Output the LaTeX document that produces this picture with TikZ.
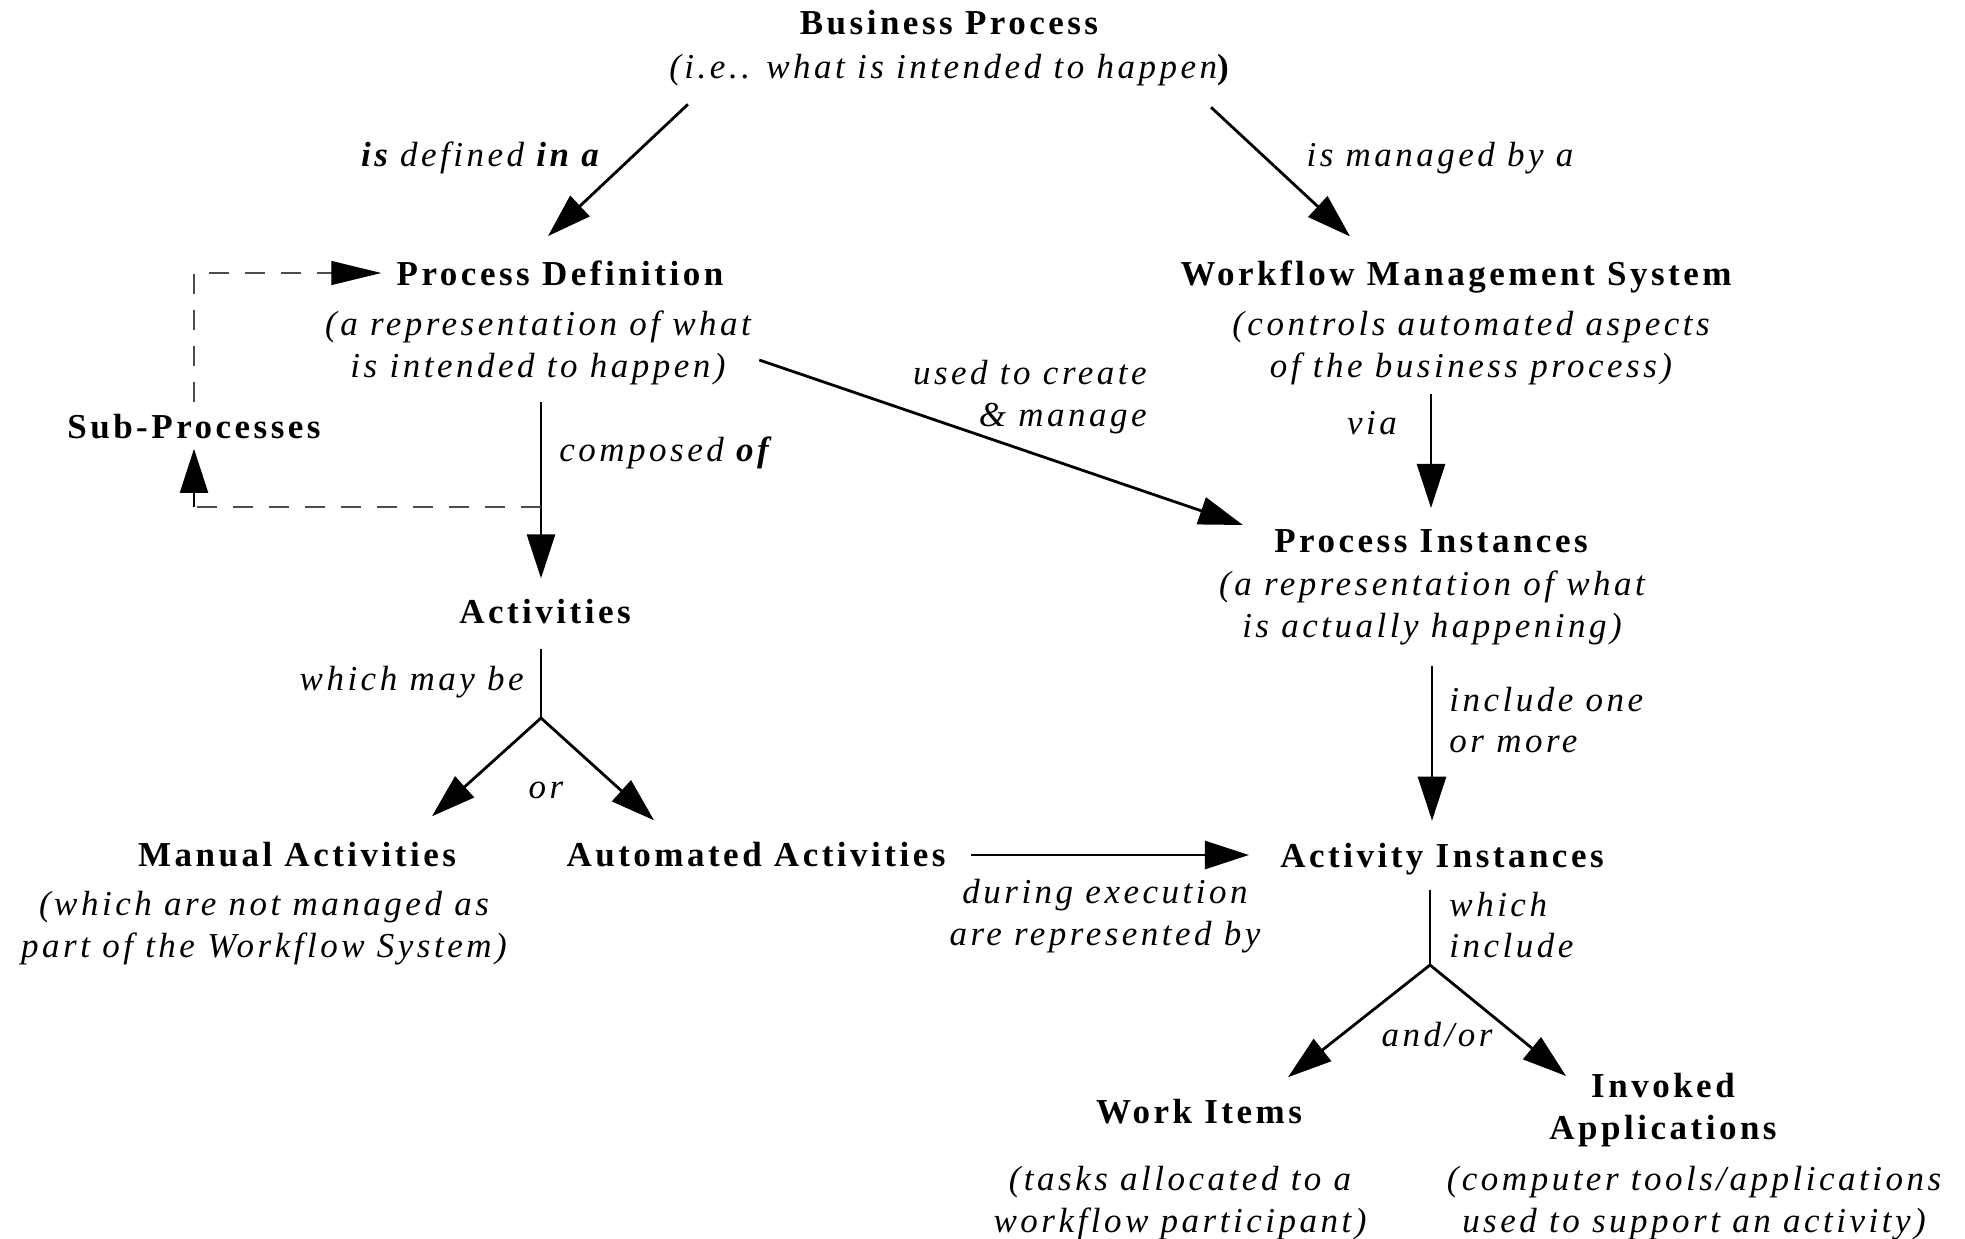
\documentclass[tikz,border=0pt]{standalone}
\usepackage{fontspec}
\setmainfont{Liberation Serif}[LetterSpace=10]
\usetikzlibrary{positioning,arrows.meta}

\tikzset{
  title/.style={font=\fontsize{17.5}{20.75}\selectfont\bfseries, inner sep=0pt, align=center},
  note/.style={font=\fontsize{17.5}{20.75}\selectfont\itshape, inner sep=0pt, align=center},
  ln/.style={line width=1.4pt},
  arr/.style={ln, -{Triangle[length=22pt,width=14pt]}},
  dashline/.style={line width=0.6pt, dash pattern=on 10pt off 8pt, black!70},
}

\begin{document}
\begin{tikzpicture}[x=0.5pt,y=-0.5pt]
    \useasboundingbox (0,0) rectangle (1965,1238);

    % concepts
    \node[title] (bp) at (949,23) {Business Process};
    \node[note] (bpd) at (949,70) {(i.e.. what is intended to happen{\upshape\bfseries)}};
    \node[title] (pd) at (560,273) {Process Definition};
    \node[note] (pdd) at (538,348) {(a representation of what\\is intended to happen)};
    \node[title] (wms) at (1456,277) {Workflow Management System};
    \node[note] (wmsd) at (1471,348) {(controls automated aspects\\of the business process)};
    \node[title] (sp) at (194,427) {Sub-Processes};
    \node[title] (pi) at (1431,541) {Process Instances};
    \node[note] (pid) at (1432,608) {(a representation of what\\is actually happening)};
    \node[title] (act) at (545,612) {Activities};
    \node[title] (ma) at (297,855) {Manual Activities};
    \node[note] (mad) at (264,928) {(which are not managed as\\part of the Workflow System)};
    \node[title] (aa) at (756,855) {Automated Activities};
    \node[title] (ai) at (1442,859) {Activity Instances};
    \node[title] (wi) at (1199,1112) {Work Items};
    \node[note] (wid) at (1180,1203) {(tasks allocated to a\\workflow participant)};
    \node[title] (ia) at (1663,1110) {Invoked\\Applications};
    \node[note] (iad) at (1694,1203) {(computer tools/applications\\used to support an activity)};

    % labels
    \node[note] (ldef) at (480,158) {\textbf{is} defined \textbf{in a}};
    \node[note] (lman) at (1440,158) {is managed by a};
    \node[note, anchor=east, align=right] (luse) at (1147,397) {used to create\\\& manage};
    \node[note] (lvia) at (1372,423) {via};
    \node[note, anchor=west] (lcomp) at (559,453) {composed \textbf{of}};
    \node[note, anchor=east] (lmay) at (524,682) {which may be};
    \node[note] (lor) at (546,790) {or};
    \node[note, anchor=west, align=left] (linc) at (1449,720) {include one\\or more};
    \node[note] (ldur) at (1105,916) {during execution\\are represented by};
    \node[note, anchor=west, align=left] (lwhich) at (1449,925) {which\\include};
    \node[note] (landor) at (1437,1035) {and/or};

    \coordinate (spfork) at (541,507);
    \coordinate (actfork) at (541,718);
    \coordinate (aifork) at (1430,965);

    % connectors
    \draw[arr] ([shift={(-261,18)}]bpd.south) -- ([shift={(-12,-24)}]pd.north);
    \draw[arr] ([shift={(262,21)}]bpd.south) -- ([shift={(-106,-24)}]wms.north);
    \draw[arr] ([shift={(8,12)}]pdd.east) -- ([shift={(-31,-16)}]pi.west);
    \draw[arr, shorten <=4.5pt, shorten >=10.5pt] (wmsd.south -| pi.north) -- (pi.north);
    \draw[arr, shorten <=8.5pt, shorten >=10.5pt] (pdd.south -| actfork) -- (act.north -| actfork);
    \draw[dashline] (spfork) -- (sp.south |- spfork);
    \draw[arr, line width=1pt, shorten >=4.5pt] (sp.south |- spfork) -- (sp.south);
    \draw[dashline, -{Triangle[length=25pt,width=12pt,black]}, shorten <=6pt, shorten >=7.5pt]
        (sp.north) -- (sp.north |- pd.west) -- (pd.west);
    \draw[ln, shorten <=12pt] (act.south -| actfork) -- (actfork);
    \draw[arr] (actfork) -- ([shift={(135,-26)}]ma.north);
    \draw[arr] (actfork) -- ([shift={(-102,-22)}]aa.north);
    \draw[arr, shorten <=12.5pt, shorten >=15.5pt] (aa.east) -- (aa.east -| ai.west);
    \draw[arr, shorten <=10.5pt, shorten >=11pt] (pid.south) -- (pid.south |- ai.north);
    \draw[ln, shorten <=7.5pt] (ai.south -| aifork) -- (aifork);
    \draw[arr] (aifork) -- ([shift={(89,-22)}]wi.north);
    \draw[arr] (aifork) -- ([shift={(17,3)}]ia.north west);
\end{tikzpicture}
\end{document}
